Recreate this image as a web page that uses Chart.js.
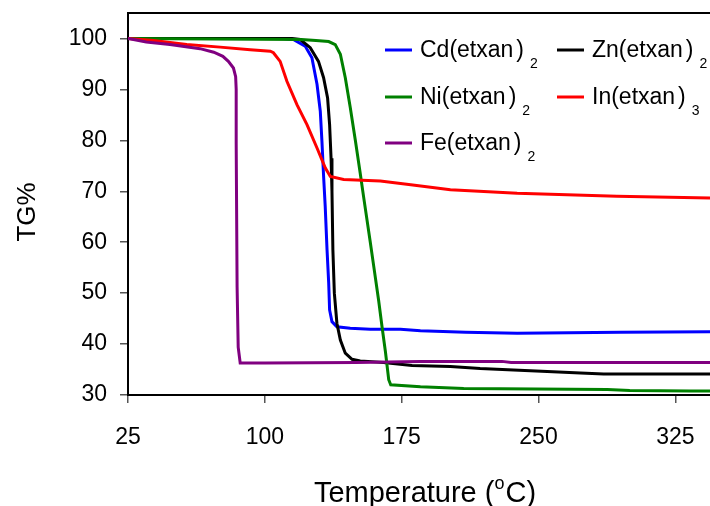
<!DOCTYPE html>
<html>
<head>
<meta charset="utf-8">
<title>TG curves of metal ethylxanthate complexes</title>
<script src="https://cdn.jsdelivr.net/npm/chart.js@4"></script>
<style>
  html, body { margin: 0; padding: 0; background: #fff; }
  #wrap { width: 710px; height: 506px; position: relative; }
</style>
</head>
<body>
<div id="wrap"><canvas id="tg" width="710" height="506"></canvas></div>
<script>
// Temperature (°C) / mass remaining (%) pairs for each complex
const cdTemp = [25, 110, 115.6, 122.1, 125.8, 128.6, 130.4, 131.3, 132.2, 133.1, 134.1, 135.0, 135.5, 136.8, 139.5, 146.8, 157.8, 174.3, 185.3, 210, 238.3, 295, 344];
const cdTG   = [100, 100, 99.8, 98.5, 96.2, 91, 85.7, 79.8, 73, 67, 58.5, 52, 46.7, 44.4, 43.4, 43.1, 42.9, 42.9, 42.6, 42.3, 42.1, 42.3, 42.4];

const znTemp = [25, 115, 119.4, 124.9, 129.4, 132.2, 134.4, 135.5, 136.3, 136.8, 137.3, 138.1, 139.5, 141.4, 144.1, 147.8, 152.3, 165, 180.7, 201.7, 218, 236.3, 254.8, 273, 285.7, 344];
const znTG   = [100, 100, 99.8, 98.2, 95.5, 92.3, 88.3, 83.1, 76.5, 70, 58.5, 50, 44.1, 40.8, 38.2, 37.0, 36.7, 36.4, 35.8, 35.6, 35.2, 34.9, 34.6, 34.3, 34.1, 34.1];

const niTemp = [25, 120, 128, 135, 138.6, 141.4, 144.1, 146.8, 149.6, 152.3, 154.1, 157.8, 159.6, 162.4, 164.2, 166.1, 167.9, 169, 185.3, 209, 287.7, 300, 333.5, 344];
const niTG   = [100, 99.8, 99.6, 99.4, 98.8, 96.9, 92.3, 86.5, 80, 73.5, 69, 60, 55.5, 48.5, 43.5, 38.5, 33, 32.0, 31.6, 31.3, 31.1, 30.9, 30.8, 30.8];

const inTemp = [25, 38.9, 57.2, 75.5, 92, 103, 104.7, 108.4, 112.1, 117.6, 123.1, 128.6, 133.1, 135.9, 143.2, 163.3, 180, 201.7, 238.3, 293, 344];
const inTG   = [100, 99.6, 98.8, 98.3, 97.8, 97.5, 97.2, 95.5, 91.6, 87.0, 83.1, 78.5, 74.6, 72.9, 72.3, 72.0, 71.3, 70.3, 69.6, 69.0, 68.7];

const feTemp = [25, 35, 48, 64.5, 72, 77, 80, 82.8, 84, 84.3, 84.3, 84.8, 85.4, 86.5, 100, 150, 185, 230, 235, 344];
const feTG   = [100, 99.3, 98.8, 98.0, 97.3, 96.5, 95.5, 94.2, 92.5, 90, 79.5, 51.2, 39.4, 36.3, 36.3, 36.4, 36.6, 36.6, 36.4, 36.4];

// Axis ticks
const xTicks = [25, 100, 175, 250, 325];
const yTicks = [30, 40, 50, 60, 70, 80, 90, 100];

// Legend entries: base text, subscript, colour
const seriesNames = ['Cd(etxan', 'Zn(etxan', 'Ni(etxan', 'In(etxan', 'Fe(etxan'];
const seriesSubs  = ['2', '2', '2', '3', '2'];
const seriesColors = ['#0000FF', '#000000', '#008000', '#FF0000', '#800080'];

const FONT = '"Liberation Sans", Arial, sans-serif';

function pairs(t, v) { return t.map((x, i) => ({ x: x, y: v[i] })); }

const allTemps = [cdTemp, znTemp, niTemp, inTemp, feTemp];
const allTG = [cdTG, znTG, niTG, inTG, feTG];

const datasets = seriesNames.map((name, i) => ({
  label: name + ')' + seriesSubs[i],
  data: pairs(allTemps[i], allTG[i]),
  borderColor: seriesColors[i],
  backgroundColor: seriesColors[i],
  borderWidth: 3,
  pointRadius: 0,
  tension: 0,
  fill: false,
  // later series are painted over earlier ones
  order: seriesNames.length - 1 - i
}));

// Top frame line, legend with subscripts and axis titles
const decorations = {
  id: 'decorations',
  afterDraw(chart) {
    const ctx = chart.ctx;
    const a = chart.chartArea;
    ctx.save();

    // top frame
    ctx.strokeStyle = '#000';
    ctx.lineWidth = 2;
    ctx.beginPath();
    ctx.moveTo(a.left - 1, a.top);
    ctx.lineTo(a.right, a.top);
    ctx.stroke();

    // legend
    const cols = [385, 557];
    const rows = [50, 97, 143];
    ctx.textBaseline = 'middle';
    ctx.textAlign = 'left';
    seriesNames.forEach((name, i) => {
      const lx = cols[i % 2];
      const ly = rows[Math.floor(i / 2)];
      ctx.strokeStyle = seriesColors[i];
      ctx.lineWidth = 3;
      ctx.beginPath();
      ctx.moveTo(lx, ly);
      ctx.lineTo(lx + 27, ly);
      ctx.stroke();
      ctx.fillStyle = '#000';
      ctx.font = '23px ' + FONT;
      let tx = lx + 35;
      ctx.fillText(name, tx, ly + 1);
      tx += ctx.measureText(name).width + 3;
      ctx.fillText(')', tx, ly + 1);
      tx += ctx.measureText(')').width;
      ctx.font = '14px ' + FONT;
      ctx.fillText(seriesSubs[i], tx + 6, ly + 14);
    });

    // x-axis title with superscript degree mark
    ctx.fillStyle = '#000';
    ctx.textBaseline = 'alphabetic';
    const big = '29px ' + FONT, small = '18px ' + FONT;
    const p1 = 'Temperature (', p2 = 'o', p3 = 'C)';
    ctx.font = big;
    const w1 = ctx.measureText(p1).width, w3 = ctx.measureText(p3).width;
    ctx.font = small;
    const w2 = ctx.measureText(p2).width + 1;
    const total = w1 + w2 + w3;
    let x = 425 - total / 2;
    const base = 502;
    ctx.font = big;
    ctx.fillText(p1, x, base);
    x += w1;
    ctx.font = small;
    ctx.fillText(p2, x, base - 13);
    x += w2;
    ctx.font = big;
    ctx.fillText(p3, x, base);

    // y-axis title
    ctx.translate(28, 212);
    ctx.rotate(-Math.PI / 2);
    ctx.textAlign = 'center';
    ctx.textBaseline = 'middle';
    ctx.font = '26px ' + FONT;
    ctx.fillText('TG%', 0, 0);

    ctx.restore();
  }
};

new Chart(document.getElementById('tg'), {
  type: 'line',
  data: { datasets: datasets },
  options: {
    responsive: false,
    animation: false,
    devicePixelRatio: 1,
    layout: { padding: { top: 13, right: 0, left: 0, bottom: 0 } },
    plugins: { legend: { display: false }, tooltip: { enabled: false }, title: { display: false } },
    scales: {
      x: {
        type: 'linear',
        min: 25,
        max: 344,
        afterBuildTicks: s => { s.ticks = xTicks.map(v => ({ value: v })); },
        afterFit: s => { s.height = 111; s.paddingLeft = 0; s.paddingRight = 0; },
        ticks: { font: { family: FONT, size: 23 }, color: '#000', padding: 21, maxRotation: 0, autoSkip: false },
        grid: { drawOnChartArea: false, drawTicks: true, tickLength: 8, color: '#555', lineWidth: 1.5 },
        border: { display: true, color: '#000', width: 2 }
      },
      y: {
        type: 'linear',
        min: 30,
        max: 105,
        afterBuildTicks: s => { s.ticks = yTicks.map(v => ({ value: v })); },
        afterFit: s => { s.width = 128; s.paddingTop = 0; s.paddingBottom = 0; },
        ticks: { font: { family: FONT, size: 23 }, color: '#000', padding: 13, autoSkip: false },
        grid: { drawOnChartArea: false, drawTicks: true, tickLength: 8, color: '#555', lineWidth: 1.5 },
        border: { display: true, color: '#000', width: 2 }
      }
    }
  },
  plugins: [decorations]
});
</script>
</body>
</html>
